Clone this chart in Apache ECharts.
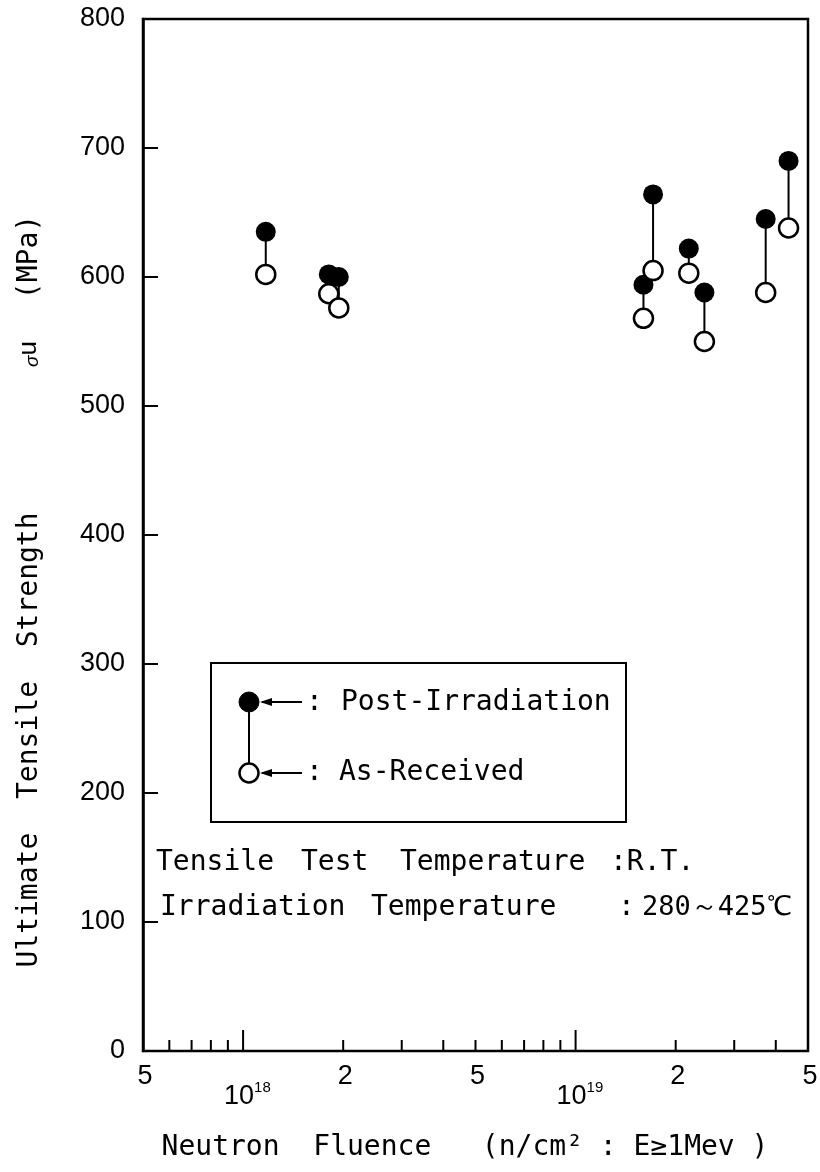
<!DOCTYPE html>
<html><head><meta charset="utf-8">
<script src="https://cdn.jsdelivr.net/npm/echarts@6/dist/echarts.min.js"></script>
<style>html,body{margin:0;padding:0;background:#fff}#c{width:820px;height:1172px}</style>
</head><body><div id="c"></div>
<script>
// ---- data ----
const fluence = [1.17e18, 1.81e18, 1.94e18, 1.60e19, 1.71e19, 2.19e19, 2.44e19, 3.73e19, 4.37e19];
const postIrradiation = [635, 602, 600, 594, 664, 622, 588, 645, 690];
const asReceived = [602, 587, 576, 568, 605, 603, 550, 588, 638];

// ---- axis ticks / labels ----
const xMinorTicks = [6e17, 7e17, 8e17, 9e17, 2e18, 3e18, 4e18, 5e18, 6e18, 7e18, 8e18, 9e18, 2e19, 3e19, 4e19];
const xMajorTicks = [1e18, 1e19];
const xLabelValues = [5e17, 2e18, 5e18, 2e19, 5e19];
const xLabelTexts = ['5', '2', '5', '2', '5'];
const decadeValues = [1e18, 1e19];
const decadeExponents = ['18', '19'];

const MONO = '"DejaVu Sans Mono", "Liberation Mono", monospace';
const SANS = '"Liberation Sans", Arial, sans-serif';

const chart = echarts.init(document.getElementById('c'), null, {renderer: 'canvas'});

function tickRenderer(len) {
  return function (params, api) {
    const p = api.coord([api.value(0), 0]);
    return {type: 'line', shape: {x1: p[0], y1: p[1], x2: p[0], y2: p[1] - len},
            style: {stroke: '#000', lineWidth: 2}};
  };
}
function txt(x, y, s, size) {
  return {type: 'text', x: x, y: y,
          style: {text: s, font: (size || 28) + 'px ' + MONO, fill: '#000', align: 'left', verticalAlign: 'middle'}};
}

const option = {
  animation: false,
  backgroundColor: '#fff',
  grid: {left: 143, right: 12, top: 19, bottom: 121, show: true,
         borderColor: '#000', borderWidth: 2.5, backgroundColor: 'transparent'},
  xAxis: {type: 'log', logBase: 10, min: 5e17, max: 5e19,
          axisLine: {show: false}, axisTick: {show: false}, axisLabel: {show: false},
          splitLine: {show: false}, minorTick: {show: false}},
  yAxis: {type: 'value', min: 0, max: 800, interval: 100,
          axisLine: {show: true, lineStyle: {color: '#000', width: 2.5}},
          axisTick: {show: true, inside: true, length: 15, lineStyle: {color: '#000', width: 2}},
          axisLabel: {color: '#000', fontFamily: SANS, fontSize: 27, margin: 18},
          splitLine: {show: false}},
  series: [
    {type: 'custom', silent: true, data: xMinorTicks.map(v => [v, 0]), renderItem: tickRenderer(11)},
    {type: 'custom', silent: true, data: xMajorTicks.map(v => [v, 0]), renderItem: tickRenderer(21)},
    {type: 'custom', silent: true, data: xLabelValues.map(v => [v, 0]),
     renderItem: function (params, api) {
       const p = api.coord([api.value(0), 0]);
       return {type: 'text', x: p[0] + 2, y: p[1] + 26,
               style: {text: xLabelTexts[params.dataIndex], font: '27px ' + SANS, fill: '#000',
                       align: 'center', verticalAlign: 'middle'}};
     }},
    {type: 'custom', silent: true, data: decadeValues.map(v => [v, 0]),
     renderItem: function (params, api) {
       const p = api.coord([api.value(0), 0]);
       return {type: 'group', children: [
         {type: 'text', x: p[0] - 4, y: p[1] + 46,
          style: {text: '10', font: '27px ' + SANS, fill: '#000', align: 'center', verticalAlign: 'middle'}},
         {type: 'text', x: p[0] + 11, y: p[1] + 37,
          style: {text: decadeExponents[params.dataIndex], font: '15px ' + SANS, fill: '#000',
                  align: 'left', verticalAlign: 'middle'}}
       ]};
     }},
    {type: 'custom', silent: true, z: 2,
     data: fluence.map((f, i) => [f, postIrradiation[i], asReceived[i]]),
     renderItem: function (params, api) {
       const a = api.coord([api.value(0), api.value(1)]);
       const b = api.coord([api.value(0), api.value(2)]);
       return {type: 'line', shape: {x1: a[0], y1: a[1], x2: b[0], y2: b[1]},
               style: {stroke: '#000', lineWidth: 2}};
     }},
    {type: 'scatter', name: 'Post-Irradiation', silent: true, z: 3,
     symbol: 'circle', symbolSize: 20,
     itemStyle: {color: '#000', opacity: 1},
     data: fluence.map((f, i) => [f, postIrradiation[i]])},
    {type: 'scatter', name: 'As-Received', silent: true, z: 4,
     symbol: 'circle', symbolSize: 19,
     itemStyle: {color: '#fff', borderColor: '#000', borderWidth: 2.5, opacity: 1},
     data: fluence.map((f, i) => [f, asReceived[i]])}
  ],
  graphic: [
    // legend box
    {type: 'rect', shape: {x: 211, y: 663, width: 415, height: 159},
     style: {fill: 'none', stroke: '#000', lineWidth: 2}},
    {type: 'line', shape: {x1: 249, y1: 703, x2: 249, y2: 773}, style: {stroke: '#000', lineWidth: 2}},
    {type: 'circle', shape: {cx: 249, cy: 702, r: 10}, style: {fill: '#000', stroke: '#000', lineWidth: 1}},
    {type: 'circle', shape: {cx: 249, cy: 773, r: 9.5}, style: {fill: '#fff', stroke: '#000', lineWidth: 2.5}},
    {type: 'line', shape: {x1: 262, y1: 702, x2: 302, y2: 702}, style: {stroke: '#000', lineWidth: 2}},
    {type: 'polygon', shape: {points: [[260, 702], [272, 698], [272, 706]]}, style: {fill: '#000'}},
    {type: 'line', shape: {x1: 262, y1: 773, x2: 302, y2: 773}, style: {stroke: '#000', lineWidth: 2}},
    {type: 'polygon', shape: {points: [[260, 773], [272, 769], [272, 777]]}, style: {fill: '#000'}},
    txt(306, 703, ':'), txt(341, 703, 'Post-Irradiation'),
    txt(306, 773, ':'), txt(339, 773, 'As-Received'),
    // conditions
    txt(156, 863, 'Tensile'), txt(301, 863, 'Test'), txt(400, 863, 'Temperature'), txt(610, 863, ':R.T.'),
    txt(160, 908, 'Irradiation'), txt(371, 908, 'Temperature'), txt(618, 908, ':'),
    txt(642, 908, '280～425℃', 27),
    // axis titles
    {type: 'text', x: 465, y: 1148, style: {text: 'Neutron  Fluence   (n/cm² : E≥1Mev )', font: '28px ' + MONO, fill: '#000', align: 'center', verticalAlign: 'middle'}},
    {type: 'text', x: 30, y: 740, rotation: Math.PI / 2,
     style: {text: 'Ultimate  Tensile  Strength', font: '28px ' + MONO, fill: '#000', align: 'center', verticalAlign: 'middle'}},
    {type: 'text', x: 29, y: 354, rotation: Math.PI / 2,
     style: {text: '{s|σ}{u|u}', fill: '#000', align: 'center', verticalAlign: 'middle',
             rich: {s: {font: 'italic 19px ' + SANS, fill: '#000', verticalAlign: 'bottom'},
                    u: {font: '26px ' + SANS, fill: '#000'}}}},
    {type: 'text', x: 30, y: 257, rotation: Math.PI / 2,
     style: {text: '(MPa)', font: '28px ' + MONO, fill: '#000', align: 'center', verticalAlign: 'middle'}}
  ]
};
chart.setOption(option);
</script>
</body></html>
